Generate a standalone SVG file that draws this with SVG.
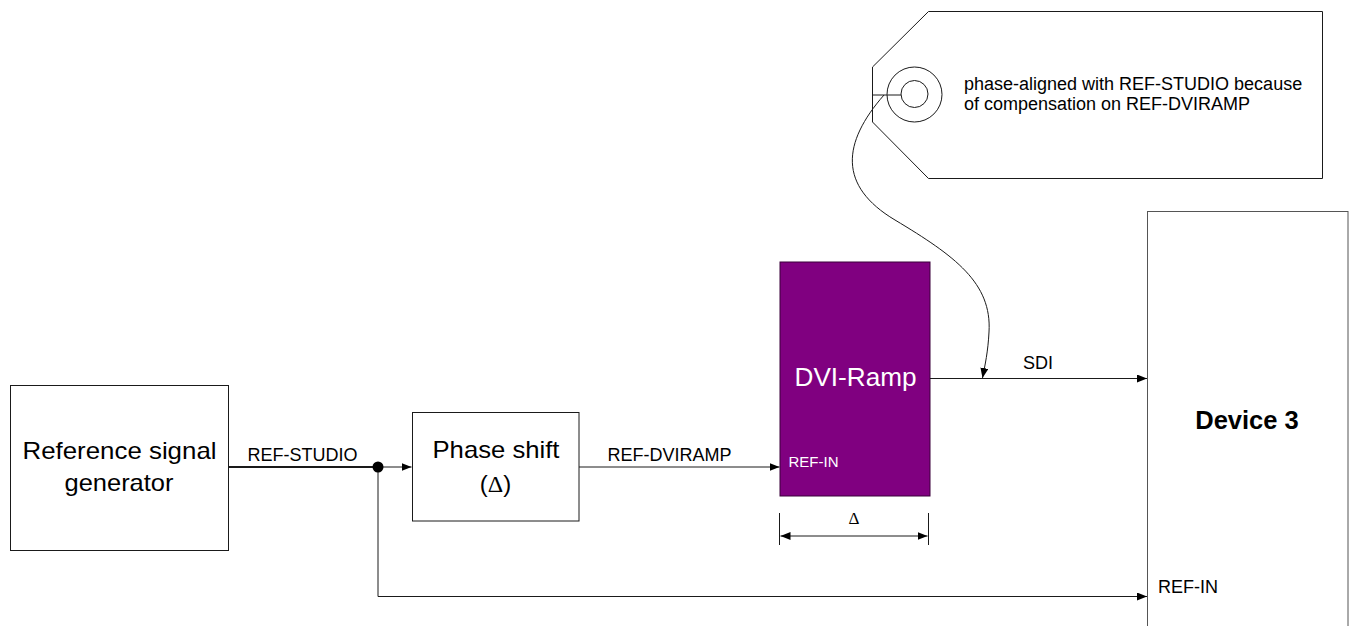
<svg xmlns="http://www.w3.org/2000/svg" width="1351" height="626" viewBox="0 0 1351 626">
<style>
  .box { fill: #ffffff; stroke: #1a1a1a; stroke-width: 1; }
  .t { font-family: "Liberation Sans", Arial, sans-serif; fill: #000000; }
  .w { font-family: "Liberation Sans", Arial, sans-serif; fill: #ffffff; }
  .serif { font-family: "Liberation Serif", "Times New Roman", serif; }
  .ln { fill: none; stroke: #1a1a1a; stroke-width: 1; }
</style>
<defs>
  <marker id="arr" markerUnits="userSpaceOnUse" markerWidth="11" markerHeight="9" refX="10" refY="4" orient="auto-start-reverse">
    <path d="M0,0 L10,4 L0,8 z" fill="#000000"/>
  </marker>
</defs>
<rect width="1351" height="626" fill="#ffffff"/>

<g id="callout">
  <polygon class="box" points="872.5,67 928.5,11.5 1322.5,11.5 1322.5,178.5 928.5,178.5 872.5,122"/>
  <circle cx="914.5" cy="94.5" r="27.5" class="ln"/>
  <circle cx="914.5" cy="94" r="13.5" class="ln"/>
  <line x1="872.5" y1="95" x2="901" y2="95" class="ln"/>
  <text class="t" font-size="18" x="964" y="90">phase-aligned with REF-STUDIO because</text>
  <text class="t" font-size="18" x="964" y="109.5">of compensation on REF-DVIRAMP</text>
</g>

<g id="refgen">
  <rect class="box" x="10.5" y="385.5" width="218" height="165"/>
  <text class="t" font-size="24" x="119.5" y="459" text-anchor="middle" textLength="194" lengthAdjust="spacingAndGlyphs">Reference signal</text>
  <text class="t" font-size="24" x="119" y="491" text-anchor="middle" textLength="109" lengthAdjust="spacingAndGlyphs">generator</text>
</g>

<g id="phaseshift">
  <rect class="box" x="412.5" y="412.5" width="166.5" height="108.5"/>
  <text class="t" font-size="24" x="496" y="457.5" text-anchor="middle" textLength="127" lengthAdjust="spacingAndGlyphs">Phase shift</text>
  <text class="t" font-size="24" x="495.5" y="491.5" text-anchor="middle">(<tspan class="serif">Δ</tspan>)</text>
</g>

<g id="dviramp">
  <rect x="780" y="262" width="150" height="234" fill="#800080" stroke="#3a003a" stroke-width="1"/>
  <text class="w" font-size="25" x="855.5" y="386" text-anchor="middle" textLength="122" lengthAdjust="spacingAndGlyphs">DVI-Ramp</text>
  <text class="w" font-size="15" x="788.5" y="466.5">REF-IN</text>
</g>

<g id="device3">
  <rect x="1147.5" y="211.5" width="200.5" height="430" fill="#ffffff" stroke="#555555" stroke-width="1"/>
  <text class="t" font-size="25.5" font-weight="bold" x="1247" y="429" text-anchor="middle">Device 3</text>
  <text class="t" font-size="18" x="1158" y="593">REF-IN</text>
</g>

<g id="connectors">
  <line x1="228.5" y1="467" x2="378" y2="467" stroke="#1a1a1a" stroke-width="2"/>
  <line x1="378" y1="467" x2="411.5" y2="467" class="ln" marker-end="url(#arr)"/>
  <line x1="579" y1="467" x2="779.5" y2="467" class="ln" marker-end="url(#arr)"/>
  <line x1="930" y1="378.5" x2="1147" y2="378.5" class="ln" marker-end="url(#arr)"/>
  <polyline points="378,467 378,596.5 1147,596.5" class="ln" marker-end="url(#arr)"/>
  <circle cx="378" cy="467" r="5.5" fill="#000000"/>
  <path d="M 884 95 C 842 143, 838 186, 895 220 C 955 256, 992 283, 989 332 C 988 352, 985 365, 982.5 378" class="ln" marker-end="url(#arr)"/>
  <text class="t" font-size="18" x="247.5" y="461">REF-STUDIO</text>
  <text class="t" font-size="18" x="607.5" y="460.5">REF-DVIRAMP</text>
  <text class="t" font-size="18" x="1023" y="368.5">SDI</text>
</g>

<g id="dimension">
  <line x1="779.5" y1="513" x2="779.5" y2="545" class="ln"/>
  <line x1="928.5" y1="513" x2="928.5" y2="545" class="ln"/>
  <line x1="780.5" y1="536" x2="927.5" y2="536" class="ln" marker-start="url(#arr)" marker-end="url(#arr)"/>
  <text class="serif" font-size="17" x="854" y="524" text-anchor="middle" fill="#000000">Δ</text>
</g>
</svg>
